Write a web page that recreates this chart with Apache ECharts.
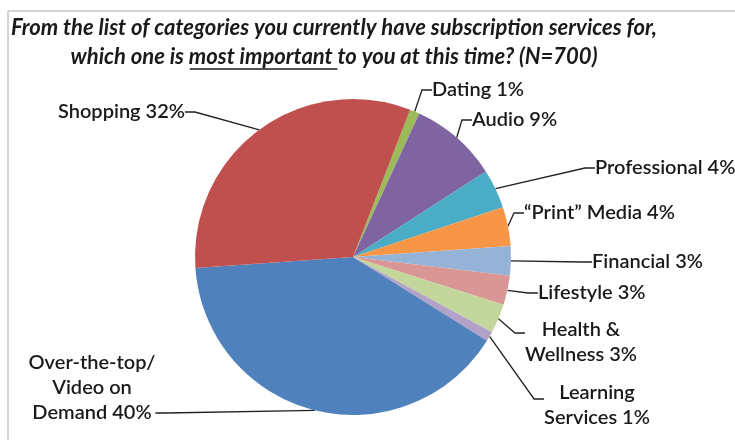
<!DOCTYPE html>
<html>
<head>
<meta charset="utf-8">
<script src="https://cdn.jsdelivr.net/npm/echarts@6/dist/echarts.min.js"></script>
<style>
html,body{margin:0;padding:0;background:#fff;}
#chart{width:735px;height:440px;}
</style>
</head>
<body>
<div id="chart"></div>
<script>
// Data
const categories = ['Dating', 'Audio', 'Professional', '“Print” Media', 'Financial', 'Lifestyle', 'Health &\nWellness', 'Learning\nServices', 'Over-the-top/\nVideo on\nDemand', 'Shopping'];
const values = [1, 9, 4, 4, 3, 3, 3, 1, 40, 32];
const colors = ['#9bbb59', '#8064a2', '#4bacc6', '#f79646', '#95b3d7', '#d99694', '#c3d69b', '#b3a2c7', '#4f81bd', '#c0504d'];
const titleLine1 = 'From the list of categories you currently have subscription services for,';
const titleLine2a = 'which one is ';
const titleLine2b = 'most important ';
const titleLine2c = 'to you at this time? (N=700)';

// label placement (layout only)
const labelPos = [
  {x: 432, y: 90, align: 'left', va: 'middle'},
  {x: 472, y: 120, align: 'left', va: 'middle'},
  {x: 595, y: 168, align: 'left', va: 'middle'},
  {x: 524, y: 213, align: 'left', va: 'middle'},
  {x: 592, y: 262, align: 'left', va: 'middle'},
  {x: 538, y: 293, align: 'left', va: 'middle'},
  {x: 581, y: 298.5, align: 'center', va: 'top'},
  {x: 597, y: 367.5, align: 'center', va: 'top'},
  {x: 92, y: 350.5, align: 'center', va: 'top'},
  {x: 185, y: 112, align: 'right', va: 'middle'}
];
const labelPad = [0, 0, 0, 0, 0, 0, [19, 0, 0, 0], [13, 0, 0, 0], [0, 0, 50, 0], 0];

const TITLE_FONT = 'italic bold 22px Lato';
const TITLE_CX = 334;

function measure(txt, font) {
  const c = document.createElement('canvas').getContext('2d');
  c.font = font;
  return c.measureText(txt).width;
}
const w2 = measure(titleLine2a + titleLine2b + titleLine2c, TITLE_FONT);
const wa = measure(titleLine2a, TITLE_FONT);
const wb = measure(titleLine2b, TITLE_FONT);
const ulX1 = TITLE_CX - w2 / 2 + wa + 1;
const ulX2 = ulX1 + wb - 1;

const chart = echarts.init(document.getElementById('chart'));
const data = categories.map((c, i) => {
  const d = {name: c, value: values[i], itemStyle: {color: colors[i]}};
  if (labelPad[i]) {
    d.label = {padding: labelPad[i], backgroundColor: 'rgba(255,255,255,0)'};
  }
  return d;
});

chart.setOption({
  backgroundColor: '#ffffff',
  animation: false,
  graphic: [
    {type: 'line', shape: {x1: 8, y1: 11, x2: 735, y2: 11}, style: {stroke: '#d4d4d4', lineWidth: 2}},
    {type: 'line', shape: {x1: 8, y1: 11, x2: 8, y2: 440}, style: {stroke: '#d4d4d4', lineWidth: 2}},
    {type: 'text', x: TITLE_CX, y: 28, style: {text: titleLine1, font: TITLE_FONT, fill: '#1a1a1a', align: 'center', verticalAlign: 'middle'}},
    {type: 'text', x: TITLE_CX, y: 57, style: {text: titleLine2a + titleLine2b + titleLine2c, font: TITLE_FONT, fill: '#1a1a1a', align: 'center', verticalAlign: 'middle'}},
    {type: 'line', shape: {x1: ulX1, y1: 69, x2: ulX2, y2: 69}, style: {stroke: '#1a1a1a', lineWidth: 1.5}}
  ],
  series: [{
    type: 'pie',
    center: [353, 257],
    radius: 158,
    startAngle: 68.8,
    clockwise: true,
    avoidLabelOverlap: false,
    data: data,
    itemStyle: {borderWidth: 0},
    label: {
      show: true,
      position: 'outside',
      formatter: p => p.name + ' ' + p.value + '%',
      fontFamily: 'Lato',
      fontWeight: 600,
      fontSize: 20,
      color: '#1a1a1a',
      lineHeight: 25
    },
    labelLine: {
      show: true,
      length: 10,
      length2: 10,
      smooth: false,
      lineStyle: {color: '#222', width: 1.3}
    },
    labelLayout: function (params) {
      const p = labelPos[params.dataIndex];
      return {x: p.x, y: p.y, align: p.align, verticalAlign: p.va};
    },
    emphasis: {disabled: true}
  }]
});
</script>
</body>
</html>
